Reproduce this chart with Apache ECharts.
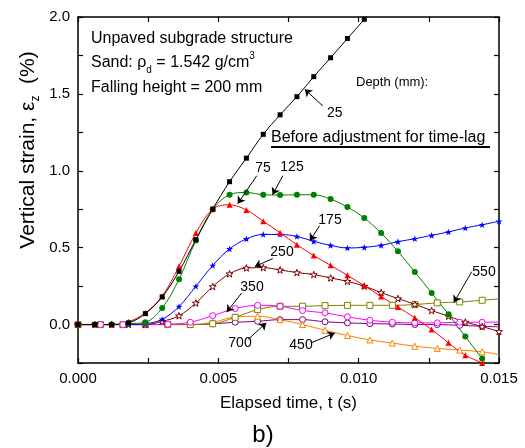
<!DOCTYPE html>
<html><head><meta charset="utf-8">
<script src="https://cdn.jsdelivr.net/npm/echarts@6/dist/echarts.min.js"></script>
<style>html,body{margin:0;padding:0;background:#fff}#c{width:525px;height:448px}</style>
</head><body><div id="c"></div>
<script>
// time samples (s)
const timeA = [0,0.0006,0.0012,0.0018,0.0024,0.003,0.0036,0.0042,0.0048,0.0054,0.006,0.0066,0.0072,0.0078,0.0084,0.009,0.0096,0.0102,0.0108,0.0114,0.012,0.0126,0.0132,0.0138,0.0144,0.015];
const timeB = [0,0.0008,0.0016,0.0024,0.0032,0.004,0.0048,0.0056,0.0064,0.0072,0.008,0.0088,0.0096,0.0104,0.0112,0.012,0.0128,0.0136,0.0144,0.015];
// vertical strain (%) by depth (mm)
const d25  = [0,0,0,0.011,0.071,0.18,0.346,0.552,0.751,0.929,1.082,1.237,1.364,1.482,1.612,1.735,1.86,1.985,2.11];
const d75  = [0,0,0,0.018,0.076,0.184,0.379,0.595,0.751,0.779,0.745,0.672,0.597,0.519,0.449,0.385,0.32,0.253,0.182,0.114,0.044,-0.032,-0.119,-0.2,-0.25,-0.31];
const d125 = [0,0,0,0.006,0.015,0.108,0.295,0.547,0.749,0.844,0.859,0.844,0.842,0.844,0.844,0.816,0.764,0.693,0.595,0.476,0.342,0.206,0.067,-0.078,-0.221,-0.36];
const d175 = [0,0,0,0,0.005,0.034,0.117,0.249,0.384,0.492,0.557,0.586,0.586,0.573,0.541,0.515,0.498,0.502,0.515,0.539,0.558,0.58,0.602,0.628,0.649,0.672];
const d250 = [0,0,0,0,0,0.021,0.057,0.14,0.247,0.33,0.368,0.37,0.355,0.338,0.325,0.303,0.281,0.25,0.208,0.169,0.132,0.091,0.054,0.016,-0.013,-0.045];
const d350 = [0,0,0,0,0.002,0.015,0.058,0.104,0.125,0.119,0.091,0.076,0.05,0.028,0.015,0.011,0.011,0.015,0.015,0.016];
const d450 = [0,0,0,0,0,0,0.015,0.05,0.054,0.032,0,-0.037,-0.071,-0.1,-0.12,-0.141,-0.155,-0.166,-0.177,-0.195];
const d550 = [0,0,0,0,0,0,0.005,0.047,0.097,0.119,0.119,0.123,0.125,0.125,0.125,0.13,0.141,0.147,0.158,0.167];
const d700 = [0,0,0,0,0,0,0.005,0.015,0.021,0.032,0.032,0.018,0.011,0.006,0.004,0,0,-0.005,-0.011,-0.015];
const xTicks = [0, 0.005, 0.01, 0.015];
const yTicks = [0, 0.5, 1.0, 1.5, 2.0];
// annotation arrows: [label, [tStart, vStart], [tEnd, vEnd]]
const arrows = [
  ['25',  [0.00872, 1.422], [0.00808, 1.530]],
  ['75',  [0.00637, 0.968], [0.00569, 0.786]],
  ['125', [0.00730, 0.968], [0.00693, 0.844]],
  ['175', [0.00861, 0.643], [0.00826, 0.545]],
  ['250', [0.00694, 0.429], [0.00630, 0.377]],
  ['350', [0.00583, 0.205], [0.00530, 0.081]],
  ['550', [0.01403, 0.344], [0.01339, 0.143]],
  ['450', [0.00833, -0.117], [0.00915, -0.055]],
  ['700', [0.00606, -0.097], [0.00671, 0.011]]
];

const FONT = "'Liberation Sans', Arial, sans-serif";
const STAR = 'path://M50,0 L61.8,35.1 L98.9,35.4 L69.1,57.5 L80.2,92.7 L50,71.3 L19.8,92.7 L30.9,57.5 L1.1,35.4 L38.2,35.1 Z';

function pairs(times, vals, noLastSymbol) {
  return vals.map((v, i) => {
    if (noLastSymbol && i === vals.length - 1) return {value: [times[i], v], symbol: 'none'};
    return [times[i], v];
  });
}
function mk(name, times, vals, color, symbol, size, opts) {
  opts = opts || {};
  return {
    name: name, type: 'line', smooth: 0.35,
    data: pairs(times, vals, opts.noLast),
    symbol: symbol, symbolSize: size, symbolKeepAspect: true,
    lineStyle: {color: color, width: 1},
    itemStyle: opts.hollow ? {color: '#fff', borderColor: color, borderWidth: 1} : {color: color, borderColor: color, borderWidth: 0},
    z: opts.z || 2
  };
}

const chart = echarts.init(document.getElementById('c'), null, {renderer: 'canvas'});

const axisCommon = {
  axisLine: {show: true, onZero: false, lineStyle: {color: '#000', width: 1.5}},
  axisTick: {show: true, inside: true, length: 5, lineStyle: {color: '#000', width: 1.2}},
  splitLine: {show: false}
};
const mid = {verticalAlign: 'middle', textVerticalAlign: 'middle'};
const ctr = {align: 'center', textAlign: 'center', verticalAlign: 'middle', textVerticalAlign: 'middle'};
function label(x, y, text, size, centered) {
  return {type: 'text', x: x, y: y, style: Object.assign({text: text, font: size + 'px ' + FONT, fill: '#000'}, centered ? ctr : mid)};
}

chart.setOption({
  animation: false,
  backgroundColor: '#fff',
  textStyle: {fontFamily: FONT},
  grid: {left: 78, right: 26, top: 17, bottom: 85},
  xAxis: [
    Object.assign({
      type: 'value', min: 0, max: 0.015, interval: 0.0025, position: 'bottom',
      name: 'Elapsed time, t (s)', nameLocation: 'middle', nameGap: 32,
      nameTextStyle: {fontSize: 17, color: '#000', fontFamily: FONT},
      axisLabel: {fontSize: 15, color: '#000', margin: 8, fontFamily: FONT,
        formatter: v => xTicks.some(t => Math.abs(t - v) < 1e-9) ? v.toFixed(3) : ''}
    }, axisCommon),
    Object.assign({
      type: 'value', min: 0, max: 0.015, interval: 0.0025, position: 'top',
      axisLabel: {show: false}
    }, axisCommon)
  ],
  yAxis: [
    Object.assign({
      type: 'value', min: -0.25, max: 2.0, interval: 0.25, position: 'left',
      axisLabel: {fontSize: 15, color: '#000', margin: 8, fontFamily: FONT,
        formatter: v => yTicks.some(t => Math.abs(t - v) < 1e-9) ? v.toFixed(1) : ''}
    }, axisCommon),
    Object.assign({
      type: 'value', min: -0.25, max: 2.0, interval: 0.25, position: 'right',
      axisLabel: {show: false}
    }, axisCommon)
  ],
  series: [
    mk('700', timeB, d700, '#800080', 'circle', 6, {noLast: true, hollow: true}),
    mk('450', timeB, d450, '#ff8000', 'triangle', 6, {noLast: true, hollow: true}),
    mk('550', timeB, d550, '#808000', 'rect', 6, {noLast: true, hollow: true}),
    mk('350', timeB, d350, '#ff00ff', 'circle', 6, {noLast: true, hollow: true}),
    mk('250', timeA, d250, '#800000', STAR, 7, {hollow: true}),
    mk('175', timeA, d175, '#0000ff', STAR, 7),
    mk('125', timeA, d125, '#008000', 'circle', 6),
    mk('75',  timeA, d75,  '#ff0000', 'triangle', 6),
    mk('25',  timeA, d25,  '#000000', 'rect', 5),
    {
      type: 'line', data: [], silent: true, z: 5,
      markLine: {
        silent: true, animation: false,
        symbol: ['none', 'arrow'], symbolSize: 7,
        lineStyle: {color: '#000', width: 1, type: 'solid'},
        label: {show: false},
        data: arrows.map(a => [{coord: a[1]}, {coord: a[2]}])
      }
    }
  ],
  graphic: [
    {type: 'text', x: 28, y: 150, rotation: Math.PI / 2,
      style: {text: '{b|Vertical strain, ε}{sub|z}{b|  (%)}', fill: '#000', align: 'center', textAlign: 'center', verticalAlign: 'middle', textVerticalAlign: 'middle',
        rich: {
          b: {fontSize: 21, fontFamily: FONT, lineHeight: 28, verticalAlign: 'middle'},
          sub: {fontSize: 12, fontFamily: FONT, lineHeight: 12, verticalAlign: 'bottom'}
        }}},
    label(91, 39, 'Unpaved subgrade structure', 16),
    {type: 'text', x: 91, y: 63, style: {text: '{b|Sand: ρ}{sub|d}{b| = 1.542 g/cm}{sup|3}', fill: '#000', verticalAlign: 'middle', textVerticalAlign: 'middle',
      rich: {
        b: {fontSize: 16, fontFamily: FONT, lineHeight: 24, verticalAlign: 'middle'},
        sub: {fontSize: 10, fontFamily: FONT, lineHeight: 10, verticalAlign: 'bottom'},
        sup: {fontSize: 10, fontFamily: FONT, lineHeight: 10, verticalAlign: 'top'}
      }}},
    label(91, 88, 'Falling height = 200 mm', 16),
    label(356, 82, 'Depth (mm):', 13),
    label(271, 138, 'Before adjustment for time-lag', 16),
    {type: 'line', shape: {x1: 271, y1: 147, x2: 490, y2: 147}, style: {stroke: '#000', lineWidth: 2}},
    label(327, 113, '25', 14),
    label(263, 168, '75', 14, true),
    label(292, 167, '125', 14, true),
    label(330, 220, '175', 14, true),
    label(282, 252, '250', 14, true),
    label(252, 287, '350', 14, true),
    label(484, 272, '550', 14, true),
    label(301, 345, '450', 14, true),
    label(240, 343, '700', 14, true),
    label(263, 435, 'b)', 24, true)
  ]
});
</script>
</body></html>
